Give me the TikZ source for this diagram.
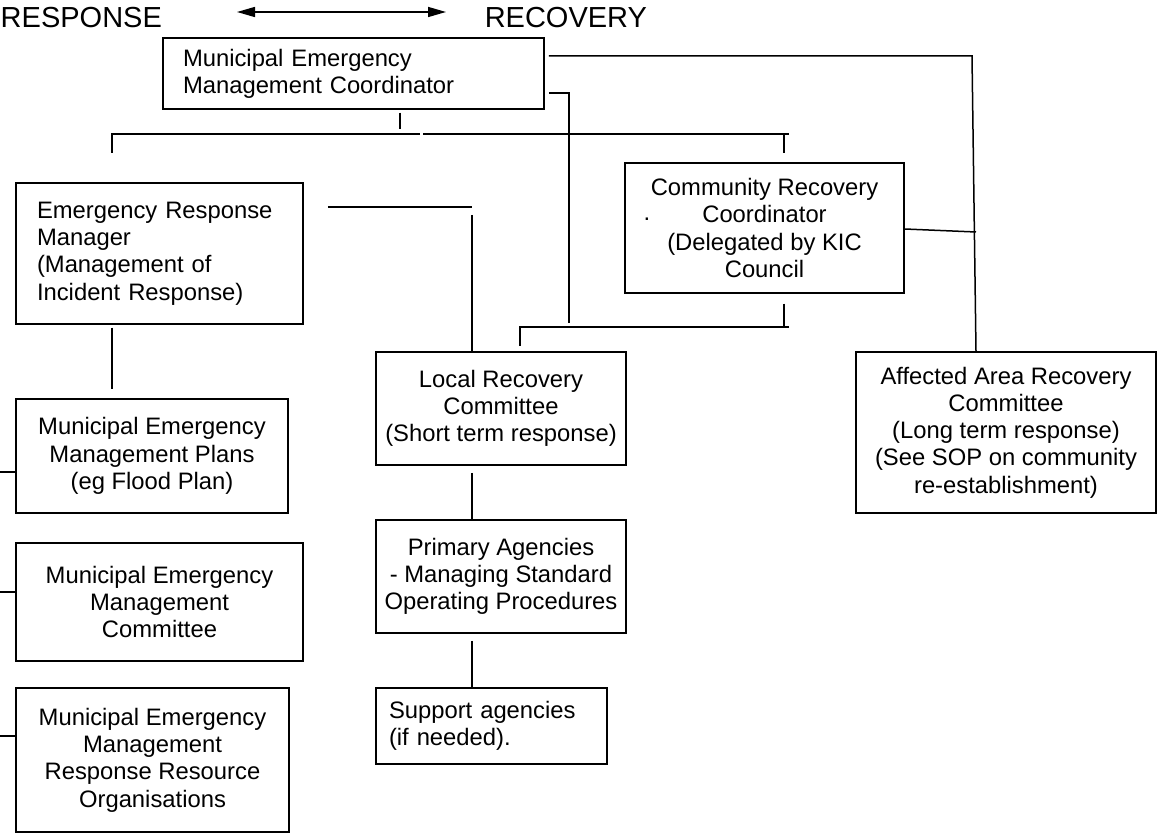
\documentclass[tikz,border=0pt]{standalone}
\usepackage{fontspec}
\setmainfont{Liberation Sans}
\usetikzlibrary{arrows.meta}
\begin{document}
\begin{tikzpicture}[x=1pt,y=-1pt,line width=1.5pt,
  box/.style={draw, rectangle, inner sep=0pt, font=\fontsize{23.8}{27.3}\selectfont, align=center},
  lbox/.style={box, align=left},
  title/.style={inner sep=0pt, anchor=west, font=\fontsize{29}{33}\selectfont},
  tip/.style={{Triangle[length=18pt,width=10pt]}-{Triangle[length=18pt,width=10pt]}}]

\useasboundingbox (0,0) rectangle (1157,834);

% titles
\node[title] (resp) at (0,18) {RESPONSE};
\node[title] (reco) at (484,18) {RECOVERY};
\coordinate (a1) at (237,12);
\coordinate (a2) at (446,12);
\draw[tip] (a1) -- (a2);

% boxes
\node[lbox, minimum width=381pt, minimum height=71pt, text width=341pt] (memc) at (353.5,73.5)
  {Municipal Emergency\\Management Coordinator};
\node[lbox, minimum width=287pt, minimum height=141pt, text width=245pt] (erm) at (159.5,253.5)
  {Emergency Response\\Manager\\(Management of\\Incident Response)};
\node[box, minimum width=279pt, minimum height=130pt] (crc) at (764.5,228)
  {Community Recovery\\Coordinator\\(Delegated by KIC\\Council};
\node[inner sep=0pt, font=\fontsize{23.8}{27.3}\selectfont] (dot) at (647,219) {.};
\node[box, minimum width=250pt, minimum height=113pt] (lrc) at (501,408.5)
  {Local Recovery\\Committee\\(Short term response)};
\node[box, minimum width=300pt, minimum height=161pt] (aarc) at (1006,432.5)
  {Affected Area Recovery\\Committee\\(Long term response)\\(See SOP on community\\re-establishment)};
\node[box, minimum width=272pt, minimum height=114pt] (mplans) at (152,456)
  {Municipal Emergency\\Management Plans\\(eg Flood Plan)};
\node[box, minimum width=287pt, minimum height=118pt] (memcomm) at (159.5,602)
  {Municipal Emergency\\Management\\Committee};
\node[box, minimum width=273pt, minimum height=144pt] (memrro) at (152.5,760)
  {Municipal Emergency\\Management\\Response Resource\\Organisations};
\node[box, minimum width=250pt, minimum height=113pt] (pa) at (501,576.5)
  {Primary Agencies\\- Managing Standard\\Operating Procedures};
\node[lbox, minimum width=231pt, minimum height=76pt, text width=205pt] (sa) at (491.5,726)
  {Support agencies\\(if needed).};

% free ends
\coordinate (e1) at (569,323);
\coordinate (e2) at (400,129);
\coordinate (t1) at (112,153);
\coordinate (t2) at (784,153);
\coordinate (e3) at (472,215);
\coordinate (l1) at (0,472);
\coordinate (l2) at (0,592);
\coordinate (l3) at (0,736);
\coordinate (e4) at (789,327);

% connectors
\draw[shorten <=4pt] (memc.east |- 0,56) -- (972,56) -- (aarc.north -| 976,0);
\draw[shorten <=4pt] (memc.east |- 0,93) -- (569,93) -- (e1);
\draw[shorten <=3pt] (memc.south -| 400,0) -- (e2);
\draw (t1) -- (112,134) -- (420,134);
\draw (423,134) -- (789,134);
\draw (784,134) -- (t2);
\draw[shorten <=24pt] (erm.east |- 0,207) -- (472,207);
\draw (e3) -- (lrc.north -| 472,0);
\draw[shorten <=3pt, shorten >=9pt] (erm.south -| 112,0) -- (mplans.north -| 112,0);
\draw (l1) -- (mplans.west |- 0,472);
\draw (l2) -- (memcomm.west |- 0,592);
\draw (l3) -- (memrro.west |- 0,736);
\draw (crc.east |- 0,229) -- (976,232);
\draw[shorten <=10pt] (crc.south -| 784,0) -- (784,327);
\draw[shorten >=5pt] (e4) -- (520,327) -- (lrc.north -| 520,0);
\draw[shorten <=7pt] (lrc.south -| 472,0) -- (pa.north -| 472,0);
\draw[shorten <=7pt] (pa.south -| 472,0) -- (sa.north -| 472,0);
\end{tikzpicture}
\end{document}
